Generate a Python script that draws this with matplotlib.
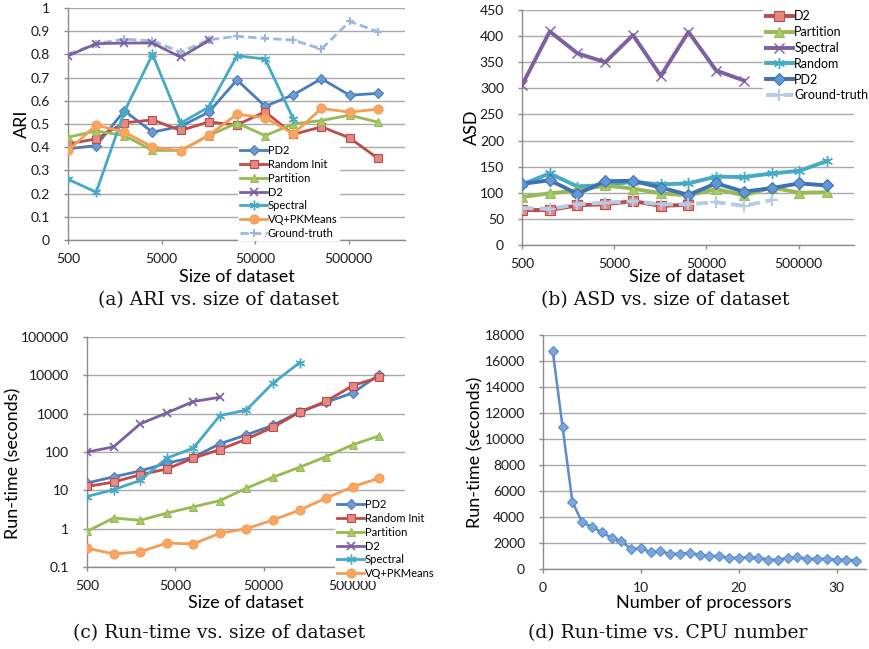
import matplotlib
matplotlib.use("Agg")
import matplotlib.pyplot as plt
from matplotlib.ticker import FixedLocator, FixedFormatter, NullLocator

# ---------------- data ----------------
sizes = [500, 1000, 2000, 4000, 8000, 16000, 32000, 64000, 128000, 256000, 512000, 1024000]
size_ticks = [500, 5000, 50000, 500000]
size_tick_labels = ["500", "5000", "50000", "500000"]

# (a) ARI
ari_pd2 = [0.393, 0.407, 0.557, 0.465, 0.49, 0.551, 0.69, 0.576, 0.626, 0.695, 0.624, 0.632]
ari_random = [0.414, 0.436, 0.505, 0.518, 0.472, 0.509, 0.496, 0.553, 0.455, 0.488, 0.44, 0.352]
ari_partition = [0.443, 0.47, 0.45, 0.386, 0.386, 0.45, 0.504, 0.45, 0.50, 0.515, 0.538, 0.508]
ari_d2 = [0.794, 0.846, 0.849, 0.849, 0.788, 0.86]
ari_spectral = [0.262, 0.206, 0.553, 0.80, 0.504, 0.573, 0.794, 0.78, 0.522]
ari_vq = [0.386, 0.495, 0.465, 0.401, 0.384, 0.452, 0.542, 0.527, 0.458, 0.567, 0.551, 0.564]
ari_gt = [0.80, 0.846, 0.866, 0.858, 0.81, 0.863, 0.878, 0.869, 0.862, 0.823, 0.942, 0.898]
ari_ticks = [0, 0.1, 0.2, 0.3, 0.4, 0.5, 0.6, 0.7, 0.8, 0.9, 1]
ari_tick_labels = ["0", "0.1", "0.2", "0.3", "0.4", "0.5", "0.6", "0.7", "0.8", "0.9", "1"]

# (b) ASD
asd_d2 = [67, 67, 76, 78, 84, 75, 77]
asd_partition = [92, 99, 104, 114, 108, 99, 95, 107, 95, 110, 100, 101]
asd_spectral = [306, 409, 367, 350, 402, 324, 408, 334, 315]
asd_random = [116, 137, 112, 115, 121, 116, 118, 131, 130, 137, 142, 161]
asd_pd2 = [117, 124, 98, 122, 123, 110, 96, 118, 102, 109, 118, 114]
asd_gt = [71, 69, 78, 81, 84, 78, 78, 82, 75, 86]
asd_ticks = [0, 50, 100, 150, 200, 250, 300, 350, 400, 450]

# (c) run-time vs size
rt_pd2 = [15.5, 22.5, 32, 51, 73, 164, 280, 500, 1110, 1990, 3470, 10500]
rt_random = [12.6, 16.4, 25.5, 36, 69, 116, 216, 444, 1090, 2110, 5400, 8900]
rt_partition = [0.85, 1.9, 1.65, 2.55, 3.7, 5.4, 11.4, 22, 40, 76, 155, 265]
rt_d2 = [100, 136, 540, 1050, 2070, 2680]
rt_spectral = [6.9, 10.4, 18.1, 69, 126, 890, 1250, 6300, 21400]
rt_vq = [0.31, 0.22, 0.25, 0.42, 0.40, 0.76, 1.0, 1.68, 3.06, 6.3, 12.4, 21]
rt_ticks = [0.1, 1, 10, 100, 1000, 10000, 100000]
rt_tick_labels = ["0.1", "1", "10", "100", "1000", "10000", "100000"]

# (d) run-time vs CPUs
cpus = [1, 2, 3, 4, 5, 6, 7, 8, 9, 10, 11, 12, 13, 14, 15, 16,
        17, 18, 19, 20, 21, 22, 23, 24, 25, 26, 27, 28, 29, 30, 31, 32]
rt_cpu = [16750, 10930, 5170, 3580, 3250, 2820, 2410, 2120, 1560, 1590, 1310, 1380,
          1150, 1180, 1250, 1100, 1000, 1000, 870, 870, 920, 870, 720, 720,
          850, 920, 790, 790, 790, 720, 720, 640]
cpu_ticks = [0, 10, 20, 30]
cpu_rt_ticks = [0, 2000, 4000, 6000, 8000, 10000, 12000, 14000, 16000, 18000]

# ---------------- style ----------------
SANS = ["Lato", "DejaVu Sans"]
SERIF = ["DejaVu Serif"]
plt.rcParams["font.family"] = SANS
GRID = "#a9a9a9"
AXC = "#8c8c8c"

BLUE = "#4a7ebb"
RED = "#be4b48"
GREEN = "#98b954"
PURPLE = "#7d60a0"
TEAL = "#46aac5"
ORANGE = "#f59d56"
GTBLUE = "#9db8dd"

W, H = 870, 649
fig = plt.figure(figsize=(W / 100, H / 100), dpi=100)


def add_ax(l, t, r, b):
    return fig.add_axes([l / W, 1 - b / H, (r - l) / W, (b - t) / H])


def style(ax):
    for s in ("top", "right"):
        ax.spines[s].set_visible(False)
    for s in ("left", "bottom"):
        ax.spines[s].set_color(AXC)
        ax.spines[s].set_linewidth(1.0)
    ax.yaxis.grid(True, color=GRID, linewidth=1.0)
    ax.set_axisbelow(True)
    ax.tick_params(axis="both", colors=AXC, labelcolor="#1a1a1a", labelsize=10,
                   length=3, width=1.0)
    ax.tick_params(axis="y", pad=10)
    ax.tick_params(axis="x", pad=6)
    ax.xaxis.set_minor_locator(NullLocator())
    ax.yaxis.set_minor_locator(NullLocator())


def size_axis(ax):
    ax.set_xscale("log")
    ax.set_xlim(500, 2.0e6)
    ax.xaxis.set_major_locator(FixedLocator(size_ticks))
    ax.xaxis.set_major_formatter(FixedFormatter(size_tick_labels))
    ax.xaxis.set_minor_locator(NullLocator())


def labels(ax, xl, yl, xc, yc, fs=13):
    ax.set_xlabel(xl, fontsize=fs, va="center")
    ax.set_ylabel(yl, fontsize=fs, va="center")
    ax.xaxis.set_label_coords(*xc)
    ax.yaxis.set_label_coords(*yc)


def mk(color, marker, face=None, ms=6, lw=2.0, ls="-", mew=0.8):
    return dict(color=color, marker=marker, markersize=ms, linewidth=lw, linestyle=ls,
                markerfacecolor=face if face else color, markeredgecolor=color,
                markeredgewidth=mew)


# ---------------- (a) ARI ----------------
ax = add_ax(68, 8, 405, 240)
style(ax)
size_axis(ax)
ax.set_ylim(0, 1)
ax.yaxis.set_major_locator(FixedLocator(ari_ticks))
ax.yaxis.set_major_formatter(FixedFormatter(ari_tick_labels))
ax.plot(sizes[:len(ari_gt)], ari_gt, label="Ground-truth", zorder=2,
        **mk(GTBLUE, "+", ms=6, lw=2.0, ls=(0, (3, 1.5)), mew=1.5))
ax.plot(sizes[:len(ari_pd2)], ari_pd2, label="PD2", zorder=3, **mk(BLUE, "D", face="#6e9bd3", ms=5))
ax.plot(sizes[:len(ari_random)], ari_random, label="Random Init", zorder=3,
        **mk(RED, "s", face="#e58985", ms=6))
ax.plot(sizes[:len(ari_partition)], ari_partition, label="Partition", zorder=3,
        **mk(GREEN, "^", face="#a9cb6a", ms=6))
ax.plot(sizes[:len(ari_d2)], ari_d2, label="D2", zorder=3, **mk(PURPLE, "x", ms=6, mew=1.2))
ax.plot(sizes[:len(ari_spectral)], ari_spectral, label="Spectral", zorder=3,
        **mk(TEAL, (6, 2, 0), ms=7, mew=1.0))
ax.plot(sizes[:len(ari_vq)], ari_vq, label="VQ+PKMeans", zorder=4,
        **mk(ORANGE, "o", face="#f9a660", ms=6.5))
handles, labs = ax.get_legend_handles_labels()
order = ["PD2", "Random Init", "Partition", "D2", "Spectral", "VQ+PKMeans", "Ground-truth"]
hmap = dict(zip(labs, handles))
ax.legend([hmap[o] for o in order], order, loc="upper left",
          bbox_to_anchor=(238 / W, 1 - 143 / H), bbox_transform=fig.transFigure,
          fontsize=8, frameon=True, facecolor="white", edgecolor="none", framealpha=1,
          handlelength=2.4, handletextpad=0.1, labelspacing=0.25, borderpad=0.2,
          borderaxespad=0, fancybox=False)
labels(ax, "Size of dataset", "ARI", (0.5, -0.159), (-0.1365, 0.5))

# ---------------- (b) ASD ----------------
ax = add_ax(522, 10, 854, 245)
style(ax)
size_axis(ax)
ax.set_ylim(0, 450)
ax.yaxis.set_major_locator(FixedLocator(asd_ticks))
ax.plot(sizes[:len(asd_spectral)], asd_spectral, label="Spectral", zorder=3,
        **mk(PURPLE, "x", ms=7, lw=2.8, mew=1.0))
ax.plot(sizes[:len(asd_random)], asd_random, label="Random", zorder=3,
        **mk(TEAL, (6, 2, 0), ms=8, lw=2.8, mew=1.0))
ax.plot(sizes[:len(asd_partition)], asd_partition, label="Partition", zorder=3,
        **mk(GREEN, "^", face="#a9cb6a", ms=7, lw=2.8))
ax.plot(sizes[:len(asd_pd2)], asd_pd2, label="PD2", zorder=4,
        **mk("#3f72b0", "D", face="#6396d4", ms=6, lw=2.8))
ax.plot(sizes[:len(asd_d2)], asd_d2, label="D2", zorder=4,
        **mk(RED, "s", face="#e58985", ms=7, lw=2.8))
ax.plot(sizes[:len(asd_gt)], asd_gt, label="Ground-truth", zorder=5,
        **mk("#b5cbe6", "+", ms=8, lw=2.8, ls=(0, (3, 1.5)), mew=1.5))
handles, labs = ax.get_legend_handles_labels()
order = ["D2", "Partition", "Spectral", "Random", "PD2", "Ground-truth"]
hmap = dict(zip(labs, handles))
ax.legend([hmap[o] for o in order], order, loc="upper left",
          bbox_to_anchor=(763 / W, 1 - 8 / H), bbox_transform=fig.transFigure,
          fontsize=9, frameon=True, facecolor="white", edgecolor="none", framealpha=1,
          handlelength=2.2, handletextpad=0.1, labelspacing=0.3, borderpad=0.2,
          borderaxespad=0, fancybox=False)
labels(ax, "Size of dataset", "ASD", (0.497, -0.136), (-0.15, 0.5))

# ---------------- (c) run-time vs size ----------------
ax = add_ax(87, 337, 405, 567)
style(ax)
size_axis(ax)
ax.set_yscale("log")
ax.set_ylim(0.1, 100000)
ax.yaxis.set_major_locator(FixedLocator(rt_ticks))
ax.yaxis.set_major_formatter(FixedFormatter(rt_tick_labels))
ax.yaxis.set_minor_locator(NullLocator())
ax.plot(sizes[:len(rt_pd2)], rt_pd2, label="PD2", zorder=3, **mk(BLUE, "D", face="#6e9bd3", ms=5))
ax.plot(sizes[:len(rt_random)], rt_random, label="Random Init", zorder=3,
        **mk(RED, "s", face="#e58985", ms=6))
ax.plot(sizes[:len(rt_partition)], rt_partition, label="Partition", zorder=3,
        **mk(GREEN, "^", face="#a9cb6a", ms=6))
ax.plot(sizes[:len(rt_d2)], rt_d2, label="D2", zorder=3, **mk(PURPLE, "x", ms=6, mew=1.2))
ax.plot(sizes[:len(rt_spectral)], rt_spectral, label="Spectral", zorder=3,
        **mk(TEAL, (6, 2, 0), ms=7, mew=1.0))
ax.plot(sizes[:len(rt_vq)], rt_vq, label="VQ+PKMeans", zorder=3,
        **mk(ORANGE, "o", face="#f9a660", ms=6.5))
ax.legend(loc="upper left", bbox_to_anchor=(335 / W, 1 - 497 / H),
          bbox_transform=fig.transFigure,
          fontsize=8, frameon=True, facecolor="white", edgecolor="none", framealpha=1,
          handlelength=2.4, handletextpad=0.1, labelspacing=0.25, borderpad=0.2,
          borderaxespad=0, fancybox=False)
labels(ax, "Size of dataset", "Run-time (seconds)", (0.5, -0.157), (-0.23, 0.452))

# ---------------- (d) run-time vs CPUs ----------------
ax = add_ax(543, 335, 866, 569)
style(ax)
ax.set_xlim(0, 33)
ax.set_ylim(0, 18000)
ax.xaxis.set_major_locator(FixedLocator(cpu_ticks))
ax.yaxis.set_major_locator(FixedLocator(cpu_rt_ticks))
ax.plot(cpus, rt_cpu, **mk("#5b8dcc", "D", face="#7aa6dc", ms=5, lw=1.8))
labels(ax, "Number of processors", "Run-time (seconds)", (0.498, -0.145), (-0.21, 0.5))

# ---------------- captions ----------------
caps = [("(a) ARI vs. size of dataset", 219, 300),
        ("(b) ASD vs. size of dataset", 665, 300),
        ("(c) Run-time vs. size of dataset", 219, 633),
        ("(d) Run-time vs. CPU number", 668, 633)]
for txt, cx, cy in caps:
    fig.text(cx / W, 1 - cy / H, txt, ha="center", va="center", fontsize=13.5,
             family=SERIF, color="#111111")

fig.savefig("out.png", dpi=100)
